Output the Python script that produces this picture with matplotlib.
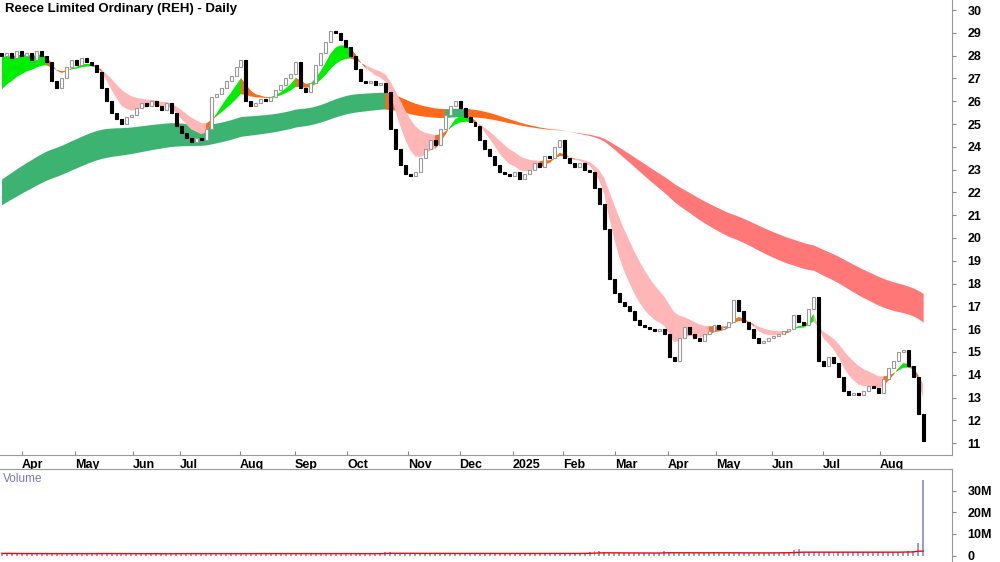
import numpy as np
import matplotlib
matplotlib.use("Agg")
import matplotlib.pyplot as plt

title = "Reece Limited Ordinary (REH) - Daily"
closes = [28.0,28.1,27.9,28.2,28.0,28.1,27.8,28.2,28.0,27.7,
          26.9,26.6,27.0,
          27.5,27.8,27.6,27.9,27.7,27.6,27.3,
          26.6,26.0,25.5,
          25.2,25.0,25.3,25.4,
          25.7,25.9,25.8,26.0,
          25.8,25.6,25.9,25.5,
          24.9,24.6,24.4,
          24.2,24.4,24.3,24.8,
          26.2,26.3,
          26.6,26.9,27.1,27.5,27.8,
          26.0,25.8,
          25.9,26.1,26.0,26.2,
          26.5,26.7,27.0,27.2,27.7,
          26.6,26.4,26.8,
          27.6,28.1,28.6,29.1,29.0,
          28.7,28.4,28.0,
          27.4,26.9,26.8,26.9,26.7,26.8,26.4,
          24.8,
          23.9,23.2,22.8,22.7,22.9,
          23.5,23.9,24.3,24.1,24.8,
          25.4,25.8,26.0,25.7,
          25.3,25.1,24.9,
          24.3,23.9,23.6,23.2,
          22.9,22.8,22.7,22.9,22.6,22.8,23.0,
          23.3,23.1,23.6,23.5,24.0,24.3,
          23.5,23.3,23.1,23.3,23.0,22.9,
          22.2,21.5,
          20.4,18.2,
          17.6,17.2,17.0,16.8,
          16.4,16.2,16.1,16.0,15.9,16.0,15.8,
          14.8,14.6,
          15.6,16.1,15.8,
          15.6,15.5,15.8,15.9,16.2,16.0,16.1,16.3,
          17.3,16.8,16.3,
          16.0,15.6,15.4,15.5,15.6,15.7,15.8,15.9,16.0,
          16.6,16.3,16.2,16.9,17.4,
          14.6,
          14.4,14.8,14.5,
          13.9,13.3,
          13.1,13.2,13.1,13.3,13.5,13.4,13.2,
          13.8,14.3,14.6,15.0,
          15.1,
          14.4,13.9,
          12.3,11.1]
first_open = 28.1
# volume in millions, one per bar
volume = [0.8,0.7,0.9,0.6,0.8,0.7,0.9,0.8,0.7,1.0,1.2,0.9,0.8,0.7,0.8,0.9,0.7,0.8,0.9,1.0,
          1.1,0.9,0.8,0.7,0.9,0.8,0.7,0.8,0.9,0.7,0.8,0.9,0.8,0.7,1.0,0.9,0.8,1.1,0.9,0.8,
          1.2,0.9,0.8,0.7,0.9,0.8,0.7,0.9,1.0,1.3,0.9,0.8,0.7,0.9,0.8,0.7,0.8,0.9,1.0,0.9,
          0.8,0.7,0.9,1.0,0.9,1.2,0.8,0.9,0.8,0.7,0.9,0.8,0.7,0.8,0.9,0.8,1.0,1.8,1.5,1.2,
          1.0,0.9,0.8,0.9,1.0,0.9,0.8,0.9,1.0,0.9,0.8,0.9,1.1,1.0,0.9,0.8,0.9,1.0,0.9,0.8,
          0.9,1.0,0.9,0.8,0.9,1.0,0.9,0.8,0.9,1.0,0.9,1.1,0.9,0.8,0.9,1.0,1.1,1.2,1.4,2.2,
          1.9,1.5,1.3,1.2,1.1,1.0,1.1,1.0,1.2,1.1,1.0,1.1,1.2,2.0,1.6,1.3,1.2,1.1,1.2,1.3,
          1.2,1.1,1.2,1.5,1.3,1.2,1.1,1.2,1.1,1.0,1.1,1.2,1.1,1.2,1.3,1.2,1.3,1.6,1.5,2.4,
          3.0,1.8,1.6,1.5,1.7,1.5,1.6,1.4,1.5,1.6,1.5,1.4,1.6,1.5,1.6,1.5,1.4,1.6,1.5,1.7,
          1.6,1.8,1.9,2.2,6.0,35.0]
month_labels = ["Apr","May","Jun","Jul","Aug","Sep","Oct","Nov","Dec","2025","Feb","Mar","Apr","May","Jun","Jul","Aug"]
month_bars = [4.0,14.7,26.3,35.7,47.8,58.8,69.3,81.5,91.9,102.6,112.7,123.1,133.7,143.4,154.6,164.9,176.3]
short_spans = (6, 14); short_seeds = (27.9, 26.3)
long_spans = (70, 100); long_seeds = (22.4, 21.3)

c = np.array(closes)
n = len(c)
x = np.arange(n)
o = np.concatenate([[first_open], c[:-1]])

def ema(vals, span, seed):
    a = 2.0/(span+1); out = []; e = seed
    for v in vals:
        e = e + a*(v-e); out.append(e)
    return np.array(out)

def state(f, s):
    st = np.full(n, 'o', dtype=object)
    st[(f > s) & (c > s)] = 'g'
    st[(f < s) & (c < s)] = 'r'
    return st

fig = plt.figure(figsize=(10, 5.62), dpi=100)
plt.rcParams['font.family'] = ['Liberation Sans', 'DejaVu Sans']
ax = fig.add_axes([0, 1-455/562, 0.952, 455/562])
axv = fig.add_axes([0, 0, 0.952, 93/562])

def ribbon(f, s, cols, z):
    st = state(f, s)
    for k, col in cols.items():
        m = st == k
        m2 = m | np.concatenate([[False], m[:-1]]) | np.concatenate([m[1:], [False]])
        ax.fill_between(x, f, s, where=m2, color=col, lw=0, zorder=z)

lf = ema(c, long_spans[0], long_seeds[0]); ls = ema(c, long_spans[1], long_seeds[1])
sf = ema(c, short_spans[0], short_seeds[0]); ss = ema(c, short_spans[1], short_seeds[1])
ribbon(lf, ls, {'g': '#3cb371', 'r': '#ff7777', 'o': '#ff6a1a'}, 1)
ribbon(sf, ss, {'g': '#00ee00', 'r': '#ffb6b6', 'o': '#ff6a1a'}, 2)

for i in range(n):
    lo, hi = min(o[i], c[i]), max(o[i], c[i])
    h = max(hi-lo, 0.08)
    if c[i] >= o[i]:
        ax.bar(x[i], h, bottom=lo, width=0.6, color='white', edgecolor='#999999', lw=0.8, zorder=3)
    else:
        ax.bar(x[i], h, bottom=lo, width=0.6, color='black', edgecolor='black', lw=0.8, zorder=3)

xl = (-0.4, 190.8)
ax.set_xlim(*xl); ax.set_ylim(10.48, 30.44)
ax.yaxis.tick_right()
ax.set_yticks(range(11, 31))
ax.tick_params(axis='y', direction='out', length=3, labelsize=9, pad=8, colors='#888888', labelcolor='black')
for t in ax.get_yticklabels(): t.set_fontweight('bold')
ax.set_xticks(month_bars)
ax.set_xticklabels(month_labels, fontsize=9, fontweight='bold', ha='left')
ax.tick_params(axis='x', direction='in', length=3, pad=3, colors='#888888', labelcolor='black')
for sp in ['top', 'left']: ax.spines[sp].set_visible(False)
ax.spines['bottom'].set_color('#999999'); ax.spines['right'].set_color('#999999')
ax.text(0.005, 0.993, title, transform=ax.transAxes, fontsize=9.5, fontweight='bold', va='top')

v = np.array(volume)
axv.bar(x, v, width=0.4, color='#9999dd', zorder=2)
avg = ema(v, 20, 1.0)
axv.plot(x, np.minimum(avg, 2.0), color='red', lw=1, zorder=3)
axv.set_xlim(*xl); axv.set_ylim(-3.0, 40.0)
axv.yaxis.tick_right()
axv.set_yticks([0, 10, 20, 30]); axv.set_yticklabels(['0', '10M', '20M', '30M'])
axv.tick_params(axis='y', direction='out', length=3, labelsize=9, pad=8, colors='#888888', labelcolor='black')
for t in axv.get_yticklabels(): t.set_fontweight('bold')
axv.set_xticks([])
for sp in ['left', 'bottom']: axv.spines[sp].set_visible(False)
axv.spines['top'].set_color('#999999'); axv.spines['right'].set_color('#999999')
axv.text(0.003, 0.96, 'Volume', transform=axv.transAxes, fontsize=8.5, color='#7777bb', va='top')

fig.savefig('out.png', dpi=100)
